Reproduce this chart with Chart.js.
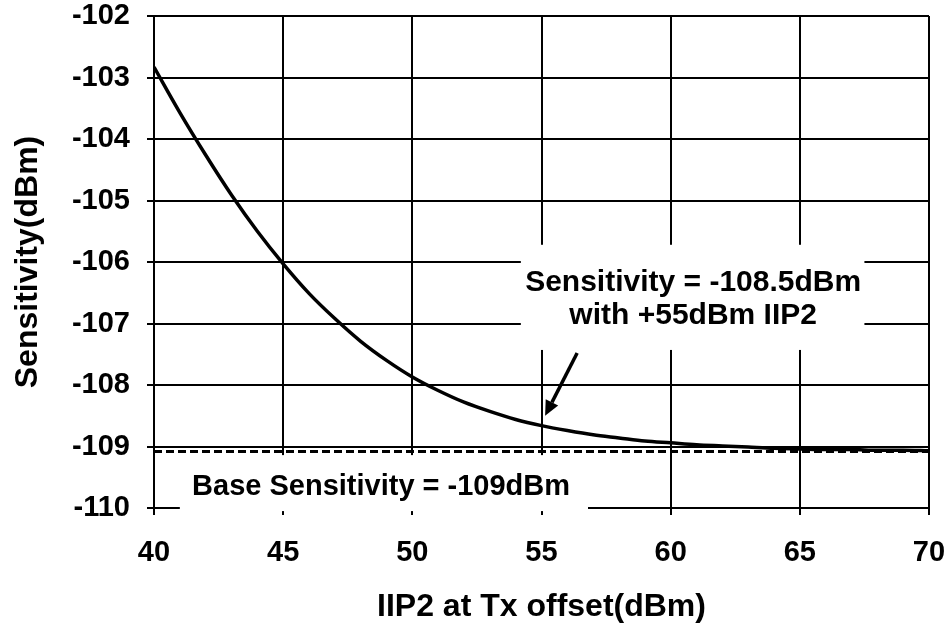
<!DOCTYPE html>
<html>
<head>
<meta charset="utf-8">
<script src="https://cdn.jsdelivr.net/npm/chart.js@4/dist/chart.umd.min.js"></script>
<style>
  html, body { margin: 0; padding: 0; background: #fff; }
  canvas { display: block; }
</style>
</head>
<body>
<canvas id="c" width="948" height="623"></canvas>
<script>
// ---- data ----
const iip2 = [40, 41, 42, 43, 44, 45, 46, 47, 48, 49, 50, 51, 52, 53, 54, 55,
              56, 57, 58, 59, 60, 61, 62, 63, 64, 65, 66, 67, 68, 69, 70];
const sensitivity = [-102.83, -103.57, -104.26, -104.91, -105.50, -106.03, -106.51, -106.92,
                     -107.29, -107.60, -107.87, -108.09, -108.28, -108.43, -108.56, -108.66,
                     -108.74, -108.81, -108.86, -108.91, -108.94, -108.97, -108.99, -109.01,
                     -109.03, -109.04, -109.05, -109.05, -109.06, -109.06, -109.07];
const baseX = [40, 70];
const baseSensitivity = [-109.08, -109.08];
const xTickRange = { min: 40, max: 70, step: 5 };
const yTickRange = { min: -110, max: -102, step: 1 };
const xTitle = 'IIP2 at Tx offset(dBm)';
const yTitle = 'Sensitivity(dBm)';
const noteLines = ['Sensitivity = -108.5dBm', 'with +55dBm IIP2'];
const baseNote = 'Base Sensitivity = -109dBm';

// ---- annotation placement (data units) ----
const noteBox = { x0: 54.2, x1: 67.5, y0: -105.72, y1: -107.43 };
const noteText = { x: 60.87, y: [-106.34, -106.87] };
const baseBox = { x0: 41.0, x1: 56.8, y0: -109.14, y1: -110.05 };
const baseText = { x: 48.79, y: -109.66 };
const arrow = { x0: 56.38, y0: -107.48, x1: 55.14, y1: -108.50 };

const FONT = "'Liberation Sans', Arial, sans-serif";

const annotations = {
  id: 'annotations',
  beforeDatasetsDraw(chart) {
    const { ctx, scales: { x, y } } = chart;
    ctx.save();
    ctx.fillStyle = '#fff';
    [noteBox, baseBox].forEach(b => {
      const px0 = x.getPixelForValue(b.x0), px1 = x.getPixelForValue(b.x1);
      const py0 = y.getPixelForValue(b.y0), py1 = y.getPixelForValue(b.y1);
      ctx.fillRect(px0, py0, px1 - px0, py1 - py0);
    });
    ctx.fillStyle = '#000';
    ctx.textAlign = 'center';
    ctx.textBaseline = 'middle';
    ctx.font = 'bold 30px ' + FONT;
    noteLines.forEach((t, i) => {
      ctx.fillText(t, x.getPixelForValue(noteText.x), y.getPixelForValue(noteText.y[i]));
    });
    ctx.font = 'bold 29px ' + FONT;
    ctx.fillText(baseNote, x.getPixelForValue(baseText.x), y.getPixelForValue(baseText.y));

    // arrow
    const ax0 = x.getPixelForValue(arrow.x0), ay0 = y.getPixelForValue(arrow.y0);
    const ax1 = x.getPixelForValue(arrow.x1), ay1 = y.getPixelForValue(arrow.y1);
    const ang = Math.atan2(ay1 - ay0, ax1 - ax0);
    const headLen = 15, headW = 7;
    const bx = ax1 - headLen * Math.cos(ang), by = ay1 - headLen * Math.sin(ang);
    ctx.strokeStyle = '#000';
    ctx.lineWidth = 3.5;
    ctx.beginPath();
    ctx.moveTo(ax0, ay0);
    ctx.lineTo(bx, by);
    ctx.stroke();
    ctx.beginPath();
    ctx.moveTo(ax1, ay1);
    ctx.lineTo(bx + headW * Math.sin(ang), by - headW * Math.cos(ang));
    ctx.lineTo(bx - headW * Math.sin(ang), by + headW * Math.cos(ang));
    ctx.closePath();
    ctx.fill();
    ctx.restore();
  }
};

new Chart(document.getElementById('c'), {
  type: 'line',
  data: {
    datasets: [
      {
        label: 'Sensitivity',
        data: iip2.map((v, i) => ({ x: v, y: sensitivity[i] })),
        borderColor: '#000',
        borderWidth: 3.5,
        pointRadius: 0,
        cubicInterpolationMode: 'monotone',
        fill: false
      },
      {
        label: 'Base Sensitivity',
        data: baseX.map((v, i) => ({ x: v, y: baseSensitivity[i] })),
        borderColor: '#000',
        borderWidth: 3,
        borderDash: [8, 4],
        pointRadius: 0,
        fill: false
      }
    ]
  },
  options: {
    responsive: false,
    animation: false,
    devicePixelRatio: 1,
    layout: { padding: { top: 16, right: 19, left: 0, bottom: 0 } },
    plugins: { legend: { display: false }, tooltip: { enabled: false } },
    scales: {
      x: {
        type: 'linear',
        min: xTickRange.min, max: xTickRange.max,
        ticks: { stepSize: xTickRange.step, color: '#000', padding: 21,
                 font: { family: FONT, size: 29, weight: 'bold' } },
        grid: { color: '#000', lineWidth: 2, tickLength: 7, tickColor: '#000' },
        border: { color: '#000', width: 2 },
        title: { display: true, text: xTitle, color: '#000',
                 font: { family: FONT, size: 32, weight: 'bold', lineHeight: 1 },
                 padding: { top: 0, bottom: 0 } },
        afterFit: s => { s.height = 115; s.paddingLeft = 0; s.paddingRight = 0; }
      },
      y: {
        type: 'linear',
        min: yTickRange.min, max: yTickRange.max,
        ticks: { stepSize: yTickRange.step, color: '#000', padding: 17,
                 font: { family: FONT, size: 29, weight: 'bold' } },
        grid: { color: '#000', lineWidth: 2, tickLength: 7, tickColor: '#000' },
        border: { color: '#000', width: 2 },
        title: { display: true, text: yTitle, color: '#000',
                 font: { family: FONT, size: 32, weight: 'bold', lineHeight: 1 },
                 padding: { top: 12, bottom: 0 } },
        afterFit: s => { s.width = 154; s.paddingTop = 0; s.paddingBottom = 0; }
      }
    }
  },
  plugins: [annotations]
});
</script>
</body>
</html>
